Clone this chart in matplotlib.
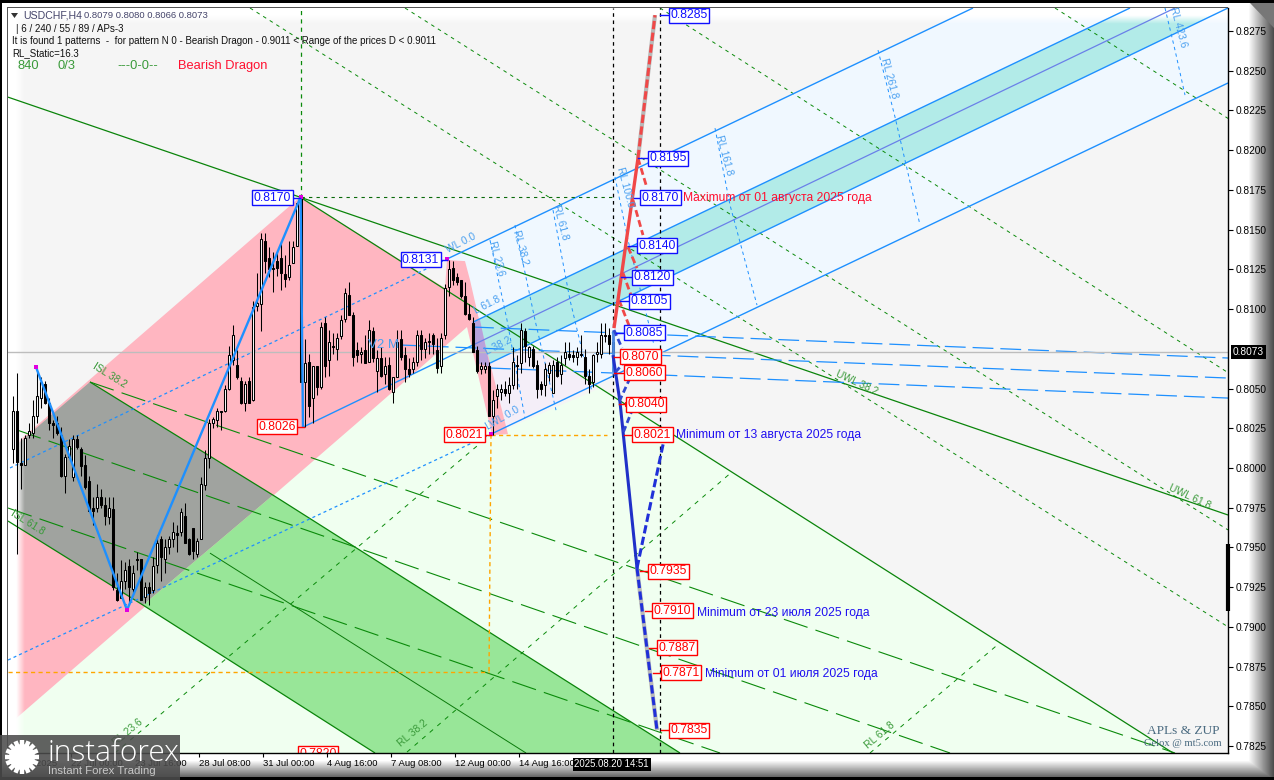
import numpy as np
import matplotlib
matplotlib.use("Agg")
import matplotlib.pyplot as plt
from matplotlib.patches import Polygon, Rectangle, Circle
from matplotlib.colors import LinearSegmentedColormap

plt.rcParams['lines.scale_dashes'] = False
plt.rcParams['font.family'] = ['Liberation Sans', 'DejaVu Sans']

# ---------- candles (prices x 1e4) ----------
opens = [8012,8036,8003,8002,8021,8022,8033,8044,8053,8041,
 8028,8028,8021,7995,8007,7994,8018,8012,8002,7992,
 7975,7975,7982,7977,7969,7974,7923,7918,7929,7938,
 7924,7943,7943,7919,7925,7923,7939,7955,7943,7950,
 7955,7959,7960,7970,7955,7962,7946,7955,7989,8006,
 8028,8030,8036,8036,8050,8068,8065,8055,8041,8055,
 8043,8102,8103,8143,8132,8125,8130,8132,8122,8120,
 8129,8140,8170,8054,8067,8044,8064,8051,8091,8068,
 8077,8075,8083,8094,8109,8096,8074,8072,8074,8067,
 8086,8061,8069,8059,8065,8048,8057,8081,8071,8062,
 8062,8067,8084,8075,8079,8084,8074,8064,8084,8114,
 8126,8120,8118,8108,8097,8091,8074,8062,8062,8064,
 8033,8045,8048,8050,8047,8052,8065,8066,8086,8070,
 8075,8065,8053,8052,8060,8047,8067,8059,8069,8072,
 8071,8070,8072,8070,8058,8054,8072,8072,8084,8084,8079]
closes = [8036,8004,8002,8019,8023,8033,8045,8054,8041,8028,
 8027,8022,7995,8007,8014,8018,8013,8001,7988,7973,
 7973,7982,7977,7970,7975,7925,7917,7929,7936,7925,
 7934,7942,7917,7925,7921,7938,7953,7944,7950,7955,
 7960,7958,7972,7953,7946,7948,7954,7990,8006,8028,
 8031,8036,8035,8050,8071,8084,8057,8041,8053,8041,
 8101,8104,8144,8130,8125,8126,8126,8123,8119,8128,
 8139,8167,8054,8066,8039,8064,8051,8089,8064,8079,
 8076,8082,8093,8110,8096,8070,8071,8073,8066,8087,
 8069,8069,8058,8064,8050,8057,8079,8070,8062,8059,
 8067,8084,8075,8079,8080,8078,8063,8082,8113,8125,
 8118,8117,8108,8097,8094,8073,8061,8064,8064,8033,
 8043,8050,8050,8047,8052,8067,8064,8087,8077,8076,
 8064,8050,8050,8062,8065,8065,8058,8065,8073,8070,
 8070,8073,8071,8058,8053,8071,8073,8084,8083,8078,8073]
highs = [8045,8060,8019,8021,8028,8043,8064,8057,8055,8044,
 8030,8033,8026,8009,8018,8021,8021,8013,8008,7995,
 7982,7990,7987,7982,7982,7982,7934,7942,7941,7943,
 7939,7947,7943,7928,7928,7944,7958,7957,7955,7957,
 7966,7964,7975,7978,7956,7962,7956,7994,8011,8031,
 8032,8038,8036,8052,8077,8090,8074,8057,8055,8057,
 8105,8123,8148,8148,8139,8136,8136,8143,8134,8143,
 8143,8167,8170,8081,8072,8064,8064,8092,8095,8087,
 8085,8085,8096,8113,8117,8098,8079,8076,8084,8093,
 8089,8074,8076,8070,8070,8057,8087,8087,8076,8069,
 8070,8087,8087,8082,8085,8085,8082,8085,8116,8131,
 8130,8123,8118,8117,8103,8095,8077,8067,8067,8067,
 8049,8053,8053,8055,8057,8076,8071,8091,8088,8077,
 8077,8068,8055,8066,8067,8068,8070,8071,8079,8079,
 8074,8076,8084,8075,8062,8072,8079,8091,8091,8088,8080]
lows = [8003,7946,7987,8002,8019,8019,8028,8038,8040,8024,
 8019,8021,7994,7984,8006,7992,8012,7995,7987,7973,
 7964,7972,7975,7964,7965,7923,7916,7918,7924,7914,
 7921,7936,7917,7915,7914,7921,7934,7929,7934,7946,
 7950,7947,7957,7953,7945,7943,7944,7955,7986,8000,
 8025,8026,8024,8035,8049,8065,8056,8040,8036,8041,
 8042,8099,8086,8123,8120,8111,8121,8112,8114,8118,
 8129,8140,8054,8026,8032,8028,8046,8050,8057,8058,
 8072,8068,8081,8092,8096,8064,8067,8066,8066,8067,
 8067,8048,8057,8053,8049,8041,8057,8068,8054,8057,
 8060,8064,8068,8069,8072,8072,8060,8060,8081,8108,
 8115,8115,8107,8096,8093,8073,8060,8059,8060,8033,
 8021,8038,8043,8045,8041,8050,8050,8060,8067,8064,
 8063,8044,8046,8045,8055,8047,8057,8053,8065,8068,
 8067,8065,8070,8053,8047,8051,8067,8069,8079,8072,8066]

price_ticks = [0.7825,0.7850,0.7875,0.7900,0.7925,0.7950,0.7975,0.8000,0.8025,0.8050,
               0.8100,0.8125,0.8150,0.8175,0.8200,0.8225,0.8250,0.8275]
time_ticks = [-1.1,14.6,30.6,46.6,62.6,78.6,94.6,110.6,126.6]
time_labels = ['18 Jul 2025','22 Jul 00:00','23 Jul 16:00','28 Jul 08:00','31 Jul 00:00',
               '4 Aug 16:00','7 Aug 08:00','12 Aug 00:00','14 Aug 16:00']
last_price = 0.8073

XMIN, XMAX = -1.15, 303.85
YMIN, YMAX = 7820.6, 8289.5

# ---------- filled zones (bar, price x 1e4) ----------
zone_blue = [(108.6,8131.5),(240.1,8289.5),(303.85,8289.5),(303.85,8242.3),(119.6,8021.3)]
zone_lightgreen = [(XMIN,7838),(113.6,8088.7),(119.85,8020.7),(146.85,8050.3),(290.1,7820.6),(XMIN,7820.6)]
zone_lavender = [(119.35,8066),(129.35,8077.4),(146.85,8053.4),(119.6,8021.3)]
zone_cyan = [(115.1,8091.8),(279.35,8289.5),(303.85,8289.5),(119.35,8066)]
zone_pink = [(XMIN,8011),(71.85,8170.5),(108.1,8113.2),(108.6,8130.9),(113.1,8130.2),(114.35,8118.3),
             (116.35,8096.2),(123.85,8021.3),(119.85,8020.7),(113.6,8088.7),(86.1,8028.3),(XMIN,7838)]
zone_violet = [(114.85,8091.9),(116.85,8093.1),(119.35,8063.5),(116.1,8066)]
zone_grey = [(XMIN,8010),(19.35,8054.1),(65.1,7982.9),(32.6,7913.7),(XMIN,7966.6)]
zone_green = [(65.1,7982.9),(166.85,7820.6),(90.6,7820.6),(32.6,7913.7)]

# ---------- lines ----------
green_solid = [
 ([XMIN,303.85],[8233.4,7970.4]),
 ([71.85,290.1],[8170.5,7820.6]),
 ([19.35,65.1,166.85],[8054.1,7982.9,7820.6]),
 ([XMIN,32.6,90.6],[7966.6,7913.7,7820.6]),
]
green_thin = [([49.35,128.35],[7946.4,7820.6])]
green_long = [
 ([19.35,290.6],[8054.1,7820.6]),
 ([1.1,234.35],[8023.9,7820.6]),
 ([XMIN,176.85],[7974.8,7820.6]),
]
green_fine_down = [
 ([59.35,303.85],[8289.5,7900]),
 ([98.1,303.85],[8289.5,7961]),
 ([161.85,303.85],[8289.5,8060]),
 ([260.6,303.85],[8289.5,8220]),
]
green_fine_up = [
 ([25.6,119.6],[7820.6,8021.3]),
 ([98.6,179.6],[7821.2,7997]),
 ([214.35,246.85],[7820.6,7890]),
]
blue_dotted = [([-0.65,108.6],[8000,8131.5]),([XMIN,119.6],[7879.1,8021.3])]
blue_solid = [
 ([108.6,240.1],[8131.5,8289.5]),
 ([119.6,303.85],[8021.3,8242.3]),
 ([72.6,115.1],[8025.7,8077.4]),
 ([115.1,279.35],[8091.8,8289.5]),
 ([119.35,303.85],[8066,8289.5]),
]
violet_mid = ([115.1,290.6],[8077.4,8289.5])
blue_long = [
 ([115.1,303.85],[8088.7,8069.2]),
 ([96.85,303.85],[8077.4,8056.6]),
 ([119.35,303.85],[8062.9,8044]),
]
rl_arcs = [
 ([119.35,123.6,128.1],[8143.4,8093.1,8031.4]),
 ([125.6,130.6,135.85],[8152.9,8093.1,8036.4]),
 ([135.1,139.35,144.85],[8162.3,8105.7,8047.8]),
 ([150.6,153.85,160.35],[8183.1,8143.4,8077.4]),
 ([175.6,179.35,186.1],[8213.9,8165.5,8102.5]),
 ([216.35,220.6,226.85],[8263,8220.9,8152.9]),
 ([288.1,290.6,293.1],[8289.5,8263,8234.7]),
]
zigzag_x = [5.85,28.6,72,72.6]
zigzag_y = [8063.5,7910.6,8170.5,8025.7]
pivot_x = [5.85,28.6,72,108.6,119.6]
pivot_y = [8063.5,7910.6,8170.5,8131.5,8021.3]

red_solid = ([150.35,156.35],[8088,8195])
red_up = ([156.35,160.6],[8195,8285])
red_dash = [([156.35,158.6],[8195,8176.2]),([155.1,157.6],[8168.6,8146.6]),
            ([153.85,156.1],[8139,8125.8]),([152.6,154.85],[8122.7,8107]),([151.6,154.35],[8105.7,8088.1])]
navy_solid = ([150.1,151.85,156.1],[8071,8041.5,7937])
sky_solid = ([150.1,150.1],[8086.8,8060.4])
navy_up = ([156.1,162.85],[7937,8017.6])
navy_down = ([156.1,161.1],[7937,7835])
navy_dash = [([150.35,152.35],[8086.8,8075.5]),([153.35,150.1],[8067.9,8058.5]),
             ([154.35,151.6],[8056.6,8041.5]),([155.1,152.6],[8037.7,8022])]

# ---------- level labels: text, price, box centre bar, leader start, leader end, colour ----------
levels = [
 ('0.8285',8285,169.2,161.85,164.85,'b'),('0.8195',8195,163.85,156.35,159.35,'b'),
 ('0.8170',8170,162.0,155.35,157.6,'b'),('0.8140',8140,161.1,153.85,156.6,'b'),
 ('0.8120',8120,160.0,152.1,155.6,'b'),('0.8105',8105,159.2,151.85,154.85,'b'),
 ('0.8085',8085,158.0,150.85,153.6,'b'),('0.8070',8070,157.0,150.35,152.6,'r'),
 ('0.8060',8060,158.0,150.35,153.6,'r'),('0.8040',8040,158.35,151.6,153.6,'r'),
 ('0.8021',8021,160.0,152.85,155.6,'r'),('0.7935',7935,164.0,156.85,159.35,'r'),
 ('0.7910',7910,165.0,158.1,160.6,'r'),('0.7887',7887,166.1,159.1,161.6,'r'),
 ('0.7871',7871,167.1,160.1,162.6,'r'),('0.7835',7835,169.1,162.1,164.6,'r'),
]
pivot_levels = [
 ('0.8170',8170,65.0,69.6,71.85,'b'),('0.8131',8131,102.0,106.35,108.6,'b'),
 ('0.8026',8026,66.1,70.6,72.85,'r'),('0.8021',8021,113.0,117.6,119.6,'r'),
 ('0.7820',7820,76.35,69.35,71.85,'r'),
]
notes = [
 ('Maximum от 01 августа 2025 года',167.6,8170,'#FF1030'),
 ('Minimum от 13 августа 2025 года',165.85,8021,'#2010F0'),
 ('Minimum от 23 июля 2025 года',171.1,7909,'#2010F0'),
 ('Minimum от 01 июля 2025 года',173.1,7870.5,'#2010F0'),
]
blue_tags = [
 ('RL 23.6',121.1,8132.1,-75),('RL 38.2',127.1,8139,-75),('RL 61.8',137.1,8154.8,-75),
 ('RL 100.0',153.1,8176.8,-75),('RL 161.8',177.85,8197,-75),('RL 261.8',219.1,8245.4,-75),
 ('RL 423.6',291.35,8277.5,-75),('WL 0.0',112.1,8141.6,27),('L 61.8',118.6,8102.5,27),
 ('L 38.2',121.35,8076.7,27),('LWL 0.0',122.6,8031.4,30),
]
green_tags = [
 ('ISL 38.2',24.35,8058,-32),('ISL 61.8',3.85,7966,-32),('RL 23.6',28.85,7833.8,40),
 ('RL 38.2',100.1,7833.1,40),('RL 61.8',216.85,7832,40),('UWL 38.2',211.1,8053.4,-25),
 ('UWL 61.8',294.35,7981.7,-25),
]

# ---------- figure ----------
W, H = 1274, 780
fig = plt.figure(figsize=(W/100, H/100), dpi=100, facecolor='white')

# chrome
bg = fig.add_axes([0,0,1,1], zorder=0)
bg.set_xlim(0,W); bg.set_ylim(H,0); bg.axis('off')
xx = np.interp(np.arange(W), [0,1248,1274], [255,255,70])
yy = np.interp(np.arange(H), [0,760,776,780], [255,255,105,60])
shade = np.minimum.outer(yy, xx)
bg.imshow(shade, cmap='gray', vmin=0, vmax=255, extent=[0,W,H,0], aspect='auto')
bg.add_patch(Rectangle((0,0),W,3,color='black',lw=0))
bg.add_patch(Rectangle((0,0),2,H,color='black',lw=0))
bg.add_patch(Rectangle((0,777),W,3,color='black',lw=0))
bg.add_patch(Rectangle((7,7),1221,1,color='#555555',lw=0))
bg.add_patch(Rectangle((7,7),1,746,color='#555555',lw=0))
bg.add_patch(Polygon([(1250,3),(1274,3),(1274,28)],color='#777777',lw=0))

ax = fig.add_axes([8/W, 1-753/H, 1220/W, 745/H], zorder=1, facecolor='#F5F5F5')
ax.set_xlim(XMIN, XMAX)
ax.set_ylim(YMIN/1e4, YMAX/1e4)

def poly(pts, color, z):
    ax.add_patch(Polygon([(a, b/1e4) for a, b in pts], closed=True, fc=color, ec='none', zorder=z))

poly(zone_blue,'#F0F8FF',1)
poly(zone_lightgreen,'#F0FFF0',1.1)
poly(zone_lavender,'#F4EEF8',1.2)
poly(zone_cyan,'#B2EBE8',1.3)
poly(zone_pink,'#FFB6C1',1.4)
poly(zone_violet,'#B8A2DC',1.45)
poly(zone_grey,'#A0A39F',1.5)
poly(zone_green,'#98E698',1.6)

# white fade on the top and left of the plot
fade_cm = LinearSegmentedColormap.from_list('fade',[(1,1,1,1),(1,1,1,1),(1,1,1,0)])
ramp = np.linspace(0,1,60)
ax.imshow(ramp[None,:], cmap=fade_cm, extent=[XMIN,XMIN+16/4,YMIN/1e4,YMAX/1e4], aspect='auto', zorder=1.8)
ax.imshow(ramp[:,None], cmap=fade_cm, extent=[XMIN,XMAX,(YMAX-0.6294*16)/1e4,YMAX/1e4], origin='upper', aspect='auto', zorder=1.8)
ax.set_xlim(XMIN, XMAX)
ax.set_ylim(YMIN/1e4, YMAX/1e4)

def draw(seg, **kw):
    ax.plot(seg[0], np.array(seg[1])/1e4, solid_capstyle='butt', dash_capstyle='butt', **kw)

for s in green_solid:
    draw(s, color='#0A840A', lw=0.9, zorder=2)
for s in green_thin:
    draw(s, color='#0A7A0A', lw=0.7, zorder=2)
for s in green_long:
    draw(s, color='#0A8A0A', lw=0.8, ls=(0,(18,6)), zorder=2)
for s in green_fine_down:
    draw(s, color='#0A8A0A', lw=0.7, ls=(0,(2.6,3)), zorder=2)
for s in green_fine_up:
    draw(s, color='#0A8A0A', lw=0.7, ls=(0,(3.2,4)), zorder=2)
for s in blue_dotted:
    draw(s, color='#1E90FF', lw=0.9, ls=(0,(2.2,2.2)), zorder=2.2)
for s in blue_solid:
    draw(s, color='#1E90FF', lw=1.0, zorder=2.2)
draw(violet_mid, color='#6A80E8', lw=0.9, zorder=2.2)
for s in blue_long:
    draw(s, color='#1E90FF', lw=0.9, ls=(0,(15,5)), zorder=2.2)
for s in rl_arcs:
    draw(s, color='#1E90FF', lw=0.7, ls=(0,(2.4,2.4)), zorder=2.2)

ax.plot([72,72],[0.8170,YMAX/1e4],color='#0A8A0A',lw=0.9,ls=(0,(3,3)),zorder=2.3)
ax.plot([72,150.1],[0.81705,0.81705],color='#0A6A0A',lw=0.8,ls=(0,(2.4,3)),zorder=2.3)
ax.plot([119.6,148.6],[0.8021,0.8021],color='#FFA500',lw=1,ls=(0,(3,2.4)),zorder=2.3)
ax.plot([119.6,119.1],[0.8021,0.78715],color='#FFA500',lw=1,ls=(0,(3,2.4)),zorder=2.3)
ax.plot([XMIN,119.1],[0.78715,0.78715],color='#FFA500',lw=1,ls=(0,(3,2.4)),zorder=2.3)
ax.axhline(last_price,color='#BDBDBD',lw=1,zorder=2.4)
for bar_x in (150.1,161.85):
    ax.axvline(bar_x,color='black',lw=0.9,ls=(0,(2.6,2.6)),zorder=2.5)

# candles
n = np.arange(len(opens))
o, c = np.array(opens)/1e4, np.array(closes)/1e4
h, l = np.array(highs)/1e4, np.array(lows)/1e4
ax.vlines(n, l, h, color='black', lw=0.75, zorder=4)
up = c >= o
ax.bar(n[up], np.maximum(c-o,1e-5)[up], bottom=o[up], width=0.55, fc='white', ec='black', lw=0.75, zorder=4.2)
ax.bar(n[~up], np.maximum(o-c,1e-5)[~up], bottom=c[~up], width=0.55, fc='black', ec='black', lw=0.75, zorder=4.2)

# ZUP zigzag
draw((zigzag_x,zigzag_y), color='#1E90FF', lw=1.7, zorder=5)
ax.scatter(pivot_x, np.array(pivot_y)/1e4, s=6, marker='s', color='#E000E0', zorder=5.2, lw=0)

# forecast paths
draw(red_solid, color='#F04848', lw=2.4, zorder=6)
draw(red_up, color='#B8B8B8', lw=3.0, zorder=5.8)
draw(red_up, color='#F04848', lw=2.2, ls=(0,(6,2.5)), zorder=6)
for s in red_dash:
    draw(s, color='#F04848', lw=2.0, ls=(0,(5,2.5)), zorder=6)
draw(sky_solid, color='#4A88E0', lw=2.0, zorder=6)
draw(navy_solid, color='#2030C8', lw=2.2, zorder=6)
draw(navy_up, color='#2030D8', lw=2.2, ls=(0,(6,2.5)), zorder=6)
draw(navy_down, color='#B8B8B8', lw=3.0, zorder=5.8)
draw(navy_down, color='#2030D8', lw=2.2, ls=(0,(6,2.5)), zorder=6)
for s in navy_dash:
    draw(s, color='#3048D0', lw=2.0, ls=(0,(4.5,2.5)), zorder=6)

# tags
for t, xb, yv, r in blue_tags:
    ax.text(xb, yv/1e4, t, color='#4AA0F0', fontsize=7.4, rotation=r, rotation_mode='anchor',
            ha='center', va='center', zorder=6.5)
ax.text(92.6, 0.80774, 'V2 M', color='#4AA0F0', fontsize=9.5, ha='center', va='center', zorder=6.5)
for t, xb, yv, r in green_tags:
    ax.text(xb, yv/1e4, t, color='#3A9A3A', fontsize=7.4, rotation=r, rotation_mode='anchor',
            ha='center', va='center', zorder=6.5)

# level labels
for t, val, xc, x0, x1, col in levels:
    colr = '#1010FF' if col == 'b' else '#FF0000'
    ax.plot([x0,x1],[val/1e4,val/1e4],color=colr,lw=1,zorder=7)
    ax.plot([x1],[val/1e4],marker='s',ms=3,mfc='white',mec=colr,mew=0.8,zorder=7)
for t, val, xc, x0, x1, col in pivot_levels:
    colr = '#1010FF' if col == 'b' else '#FF0000'
    ax.plot([x0,x1],[val/1e4,val/1e4],color=colr,lw=1,zorder=7)
for t, val, xc, x0, x1, col in levels + pivot_levels:
    colr = '#1010FF' if col == 'b' else '#FF0000'
    ax.text(xc, val/1e4, t, color=colr, fontsize=8.8, ha='center', va='center', zorder=7.5,
            bbox=dict(boxstyle='square,pad=0.12', fc='white', ec=colr, lw=1), clip_on=True)
for t, xb, val, col in notes:
    ax.text(xb, val/1e4, t, color=col, fontsize=8.7, ha='left', va='center', zorder=7.5)

# axes
ax.yaxis.tick_right()
ax.set_yticks(price_ticks)
ax.set_yticklabels([f'{v:.4f}' for v in price_ticks])
ax.set_xticks(time_ticks)
ax.set_xticklabels(time_labels, ha='left')
ax.tick_params(axis='y', length=3.5, width=0.8, pad=2, labelsize=7.3, colors='black')
ax.tick_params(axis='x', length=3, width=0.8, pad=1.5, labelsize=6.8, colors='black')
for side, sp in ax.spines.items():
    sp.set_visible(side in ('right','bottom'))
    sp.set_color('black'); sp.set_linewidth(1)
    sp.set_zorder(8)

ax.plot([XMAX,XMAX],[0.7952,0.7910],color='black',lw=3,clip_on=False,zorder=9,solid_capstyle='butt')
ax.annotate(f'{last_price:.4f}', xy=(1,last_price), xycoords=('axes fraction','data'),
            xytext=(3.5,0), textcoords='offset points', ha='left', va='center', color='white',
            fontsize=7.3, annotation_clip=False, zorder=9,
            bbox=dict(boxstyle='square,pad=0.15', fc='black', ec='black', lw=0))
ax.annotate('2025.08.20 14:51', xy=(149.75,0), xycoords=('data','axes fraction'),
            xytext=(0,-8.2), textcoords='offset points', ha='center', va='center', color='white',
            fontsize=6.9, annotation_clip=False, zorder=9,
            bbox=dict(boxstyle='square,pad=0.18', fc='black', ec='black', lw=0))

# overlay: header, signature, logo
top = fig.add_axes([0,0,1,1], zorder=3)
top.set_xlim(0,W); top.set_ylim(H,0); top.axis('off'); top.patch.set_alpha(0)
top.add_patch(Polygon([(11,13),(18,13),(14.5,18)],color='#333333',lw=0))
top.text(23,16,'USDCHF,H4',color='#44446A',fontsize=7.6,va='center')
top.text(84,16,'0.8079 0.8080 0.8066 0.8073',color='#44446A',fontsize=6.8,va='center')
hdr = ['| 6 / 240 / 55 / 89 / APs-3',
       'It is found 1 patterns  -  for pattern N 0 - Bearish Dragon - 0.9011 < Range of the prices D < 0.9011',
       'RL_Static=16.3']
top.text(16,28.5,hdr[0],color='#111111',fontsize=7.0,va='center')
top.text(12.5,41,hdr[1],color='#111111',fontsize=7.0,va='center')
top.text(12.5,53,hdr[2],color='#111111',fontsize=7.0,va='center')
top.text(18,66,'840',color='#3A9A3A',fontsize=9.3,va='center')
top.text(58,66,'0/3',color='#3A9A3A',fontsize=9.3,va='center')
top.text(117,66,'---0-0--',color='#3A9A3A',fontsize=9.3,va='center')
top.text(178,66,'Bearish Dragon',color='#FF1030',fontsize=9.3,va='center')
top.text(1183,731,'APLs & ZUP',color='#4A6A80',fontsize=9.6,family='Liberation Serif',ha='center',va='center')
top.text(1183,744,'Gelox @ mt5.com',color='#4A6A80',fontsize=7.6,family='Liberation Serif',ha='center',va='center')

top.add_patch(Rectangle((0,735),180,45,fc='#4C4C4C',ec='none',alpha=0.88))
# gear of the logo
for ang in np.deg2rad(np.arange(0,180,22.5)):
    top.plot([22-17*np.cos(ang),22+17*np.cos(ang)],[757-17*np.sin(ang),757+17*np.sin(ang)],
             color='white',lw=3.2,solid_capstyle='butt')
top.add_patch(Circle((22,757),13,fc='white',ec='none'))
top.add_patch(Circle((22,757),8.5,fc='#4C4C4C',ec='none'))
top.add_patch(Circle((22,757),4,fc='white',ec='none'))
top.text(48,753,'instaforex',color='white',fontsize=21.5,va='center',family='Open Sans',weight='light')
top.text(48,771,'Instant Forex Trading',color='#C8C8C8',fontsize=8.2,va='center',family='Liberation Sans')
top.set_xlim(0,W); top.set_ylim(H,0)

fig.savefig('out.png', dpi=100, facecolor=fig.get_facecolor())
